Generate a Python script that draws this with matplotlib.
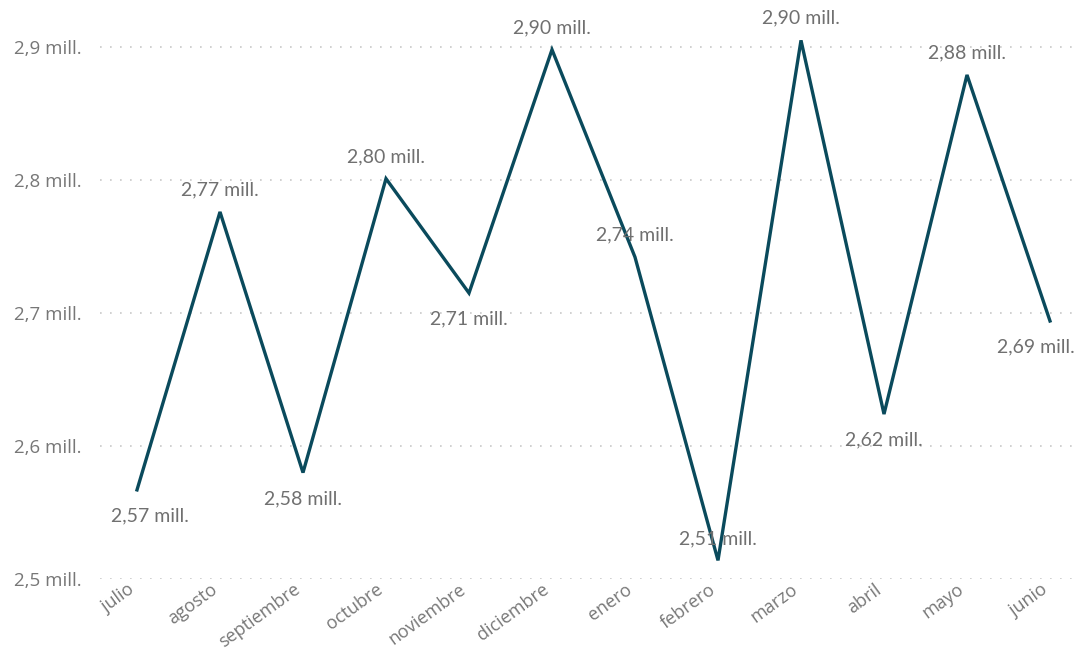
import matplotlib
matplotlib.use("Agg")
import matplotlib.pyplot as plt
import matplotlib.transforms as mtransforms

months = ["julio", "agosto", "septiembre", "octubre", "noviembre", "diciembre",
          "enero", "febrero", "marzo", "abril", "mayo", "junio"]
values = [2.567, 2.776, 2.580, 2.801, 2.715, 2.898, 2.742, 2.514, 2.905, 2.624, 2.879, 2.694]
labels = ["2,57 mill.", "2,77 mill.", "2,58 mill.", "2,80 mill.", "2,71 mill.", "2,90 mill.",
          "2,74 mill.", "2,51 mill.", "2,90 mill.", "2,62 mill.", "2,88 mill.", "2,69 mill."]
ytick_vals = [2.5, 2.6, 2.7, 2.8, 2.9]
ytick_labels = ["2,5 mill.", "2,6 mill.", "2,7 mill.", "2,8 mill.", "2,9 mill."]
# label placement: 1 above, -1 below; x pixel shift
placement = [-1, 1, -1, 1, -1, 1, 1, 1, 1, -1, 1, -1]
xshift = [13, 0, 0, 0, 0, 0, 0, 0, 0, 0, 0, -14]

plt.rcParams['font.family'] = ['Open Sans', 'DejaVu Sans']
W, H = 1078, 654
fig = plt.figure(figsize=(W/100, H/100), dpi=100)
left_px, right_px, top_px, bot_px = 100, 1075, 0, 579
ax = fig.add_axes([left_px/W, (H-bot_px)/H, (right_px-left_px)/W, (bot_px-top_px)/H])
ypp = 0.4/(579-47)
ax.set_ylim(2.5, 2.5 + ypp*(579-top_px))
ax.set_xlim((left_px-137)/83.0, (right_px-137)/83.0)

x = list(range(len(months)))
ax.plot(x, values, color='#0A4A5C', lw=2.4, solid_joinstyle='miter', zorder=3, clip_on=False)

for s in ax.spines.values():
    s.set_visible(False)
ax.set_yticks(ytick_vals)
ax.set_yticklabels(ytick_labels, family=['Open Sans', 'DejaVu Sans'])
ax.set_xticks(x)
ax.set_xticklabels(months, rotation=36, ha='right', rotation_mode='anchor',
                   family=['Open Sans', 'DejaVu Sans'])
ax.tick_params(axis='y', length=0, pad=13, labelsize=13.5, labelcolor='#777777')
ax.tick_params(axis='x', length=0, pad=1, labelsize=13, labelcolor='#777777')
shift = mtransforms.ScaledTranslation(-10/100, 0, fig.dpi_scale_trans)
for lab in ax.get_xticklabels():
    lab.set_transform(lab.get_transform() + shift)
ax.grid(axis='y', color='#c8c8c8', linestyle=(0, (1, 5)), linewidth=1.2)
ax.set_axisbelow(True)

for xi, v, lab, p, dx in zip(x, values, labels, placement, xshift):
    dy = 22 if p > 0 else -26
    ax.annotate(lab, (xi, v), xytext=(dx*0.72, dy*0.72), textcoords='offset points',
                ha='center', va='center', fontsize=14, color='#707070', zorder=4,
                family=['Lato', 'DejaVu Sans'])

fig.savefig("out.png", dpi=100)
